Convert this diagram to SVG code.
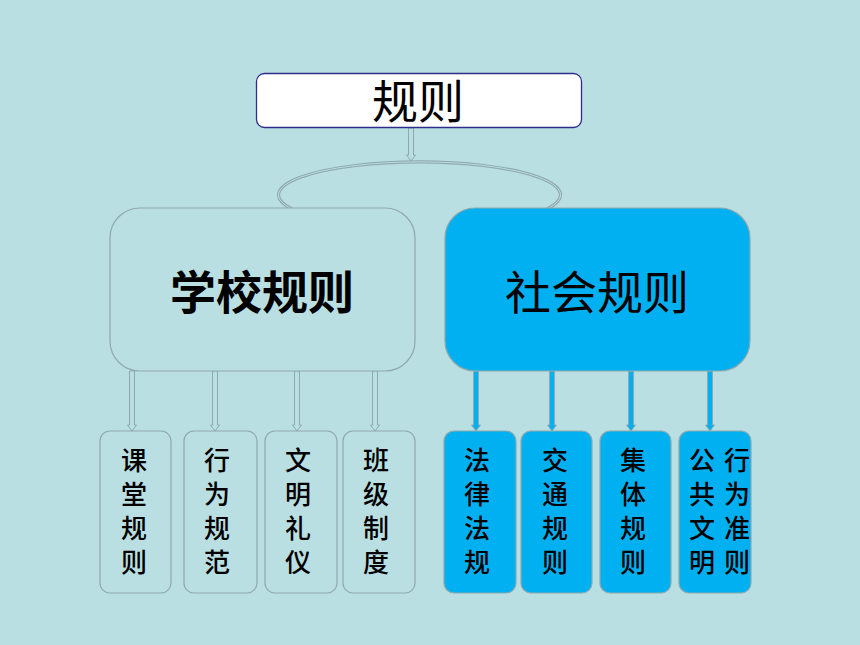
<svg xmlns="http://www.w3.org/2000/svg" width="860" height="645" viewBox="0 0 860 645">
<style>
.big{font-family:"Noto Sans CJK SC","Noto Sans",sans-serif;font-size:46px;text-anchor:middle;fill:#000}
.sm{font-family:"Noto Sans CJK SC","Noto Sans",sans-serif;font-size:26px;font-weight:500;text-anchor:middle;fill:#000}
.lb{fill:#b9dfe2;stroke:#8fa9ae;stroke-width:1.2}
.bb{fill:#00b0f0;stroke:#8fa9ae;stroke-width:1.2}
.al{fill:#b9dfe2;stroke:#8fa9ae;stroke-width:1}
.ab{fill:#00b0f0;stroke:#8fa9ae;stroke-width:1}
</style>
<rect width="860" height="645" fill="#b9dfe2"/>
<g id="connectors">
<path d="M292,209A141 33 0 1 1 547,209" fill="none" stroke="#8fa9ae" stroke-width="3.2"/>
<path d="M292,209A141 33 0 1 1 547,209" fill="none" stroke="#b9dfe2" stroke-width="1"/>
<path class="al" d="M408.5,128V155H406.5L411,161L415.5,155H413.5V128Z"/>
<path class="al" d="M129.5,371V425H127.5L132,431L136.5,425H134.5V371Z"/>
<path class="al" d="M212.5,371V425H210.5L215,431L219.5,425H217.5V371Z"/>
<path class="al" d="M294.5,371V425H292.5L297,431L301.5,425H299.5V371Z"/>
<path class="al" d="M372.5,371V425H370.5L375,431L379.5,425H377.5V371Z"/>
<path class="ab" d="M473.5,371V425H471.5L476,431L480.5,425H478.5V371Z"/>
<path class="ab" d="M549.5,371V425H547.5L552,431L556.5,425H554.5V371Z"/>
<path class="ab" d="M628.5,371V425H626.5L631,431L635.5,425H633.5V371Z"/>
<path class="ab" d="M707.5,371V425H705.5L710,431L714.5,425H712.5V371Z"/>
</g>
<g id="root">
<rect x="256.5" y="73.5" width="325" height="54" rx="8" fill="#fff" stroke="#2e2e8a" stroke-width="1.3"/>
<text class="big" x="418" y="118">规则</text>
</g>
<g id="school">
<rect class="lb" x="110" y="208" width="305" height="163" rx="30"/>
<text class="big" x="262" y="309" font-weight="bold">学校规则</text>
</g>
<g id="society">
<rect class="bb" x="445" y="208" width="305" height="163" rx="30"/>
<text class="big" x="597" y="309">社会规则</text>
</g>
<g id="n1"><rect class="lb" x="100" y="431" width="71" height="162" rx="10"/>
<text class="sm" x="134"><tspan x="134" y="470">课</tspan><tspan x="134" y="504">堂</tspan><tspan x="134" y="538">规</tspan><tspan x="134" y="572">则</tspan></text></g>
<g id="n2"><rect class="lb" x="184" y="431" width="73" height="162" rx="10"/>
<text class="sm"><tspan x="217" y="470">行</tspan><tspan x="217" y="504">为</tspan><tspan x="217" y="538">规</tspan><tspan x="217" y="572">范</tspan></text></g>
<g id="n3"><rect class="lb" x="265" y="431" width="72" height="162" rx="10"/>
<text class="sm"><tspan x="298" y="470">文</tspan><tspan x="298" y="504">明</tspan><tspan x="298" y="538">礼</tspan><tspan x="298" y="572">仪</tspan></text></g>
<g id="n4"><rect class="lb" x="343" y="431" width="72" height="162" rx="10"/>
<text class="sm"><tspan x="376" y="470">班</tspan><tspan x="376" y="504">级</tspan><tspan x="376" y="538">制</tspan><tspan x="376" y="572">度</tspan></text></g>
<g id="n5"><rect class="bb" x="444" y="431" width="72" height="162" rx="10"/>
<text class="sm"><tspan x="477" y="470">法</tspan><tspan x="477" y="504">律</tspan><tspan x="477" y="538">法</tspan><tspan x="477" y="572">规</tspan></text></g>
<g id="n6"><rect class="bb" x="521" y="431" width="71" height="162" rx="10"/>
<text class="sm"><tspan x="555" y="470">交</tspan><tspan x="555" y="504">通</tspan><tspan x="555" y="538">规</tspan><tspan x="555" y="572">则</tspan></text></g>
<g id="n7"><rect class="bb" x="600" y="431" width="71" height="162" rx="10"/>
<text class="sm"><tspan x="633" y="470">集</tspan><tspan x="633" y="504">体</tspan><tspan x="633" y="538">规</tspan><tspan x="633" y="572">则</tspan></text></g>
<g id="n8"><rect class="bb" x="679" y="431" width="72" height="162" rx="10"/>
<text class="sm"><tspan x="702" y="470">公</tspan><tspan x="702" y="504">共</tspan><tspan x="702" y="538">文</tspan><tspan x="702" y="572">明</tspan></text>
<text class="sm"><tspan x="737" y="470">行</tspan><tspan x="737" y="504">为</tspan><tspan x="737" y="538">准</tspan><tspan x="737" y="572">则</tspan></text></g>
</svg>
